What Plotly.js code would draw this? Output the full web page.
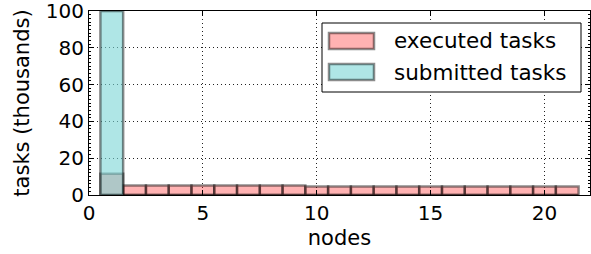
<!DOCTYPE html>
<html>
<head>
<meta charset="utf-8">
<script src="https://cdn.plot.ly/plotly-3.0.1.min.js"></script>
<style>html,body{margin:0;padding:0;background:#fff;}#chart{width:591px;height:254px;}</style>
</head>
<body>
<div id="chart"></div>
<script>
// Data (values in thousands of tasks)
const nodes = [1,2,3,4,5,6,7,8,9,10,11,12,13,14,15,16,17,18,19,20,21];
const executed = [11.6,5.2,5.2,5.2,5.2,5.2,5.2,5.2,5.2,4.6,4.6,4.6,4.6,4.6,4.6,4.6,4.6,4.6,4.6,4.6,4.6];
const submitted = [100,0,0,0,0,0,0,0,0,0,0,0,0,0,0,0,0,0,0,0,0];
const seriesNames = ['executed tasks','submitted tasks'];
const xTicks = [0,5,10,15,20];
const yTicks = [0,20,40,60,80,100];

const FONT = 'DejaVu Sans, sans-serif';
const fills = ['rgba(255,0,0,0.3)','rgba(121,214,214,0.6)'];
const edge = 'rgba(0,0,0,0.45)';

const traces = [
  {type:'bar', x:nodes, y:executed, name:seriesNames[0], width:1,
   marker:{color:fills[0], line:{color:edge, width:2.5}}, showlegend:false},
  {type:'bar', x:nodes, y:submitted, name:seriesNames[1], width:1,
   marker:{color:fills[1], line:{color:edge, width:2.5}}, showlegend:false}
];

// plot area in pixels
const L=89, R=590, T=11, B=195;
const px = v => (v-L)/(R-L);
const py = v => (B-v)/(B-T);

const shapes = [
  {type:'rect', xref:'paper', yref:'paper', x0:px(322), x1:px(581), y0:py(92), y1:py(23),
   fillcolor:'#fff', line:{color:'#000', width:1}, layer:'above'},
  {type:'rect', xref:'paper', yref:'paper', x0:px(329), x1:px(374), y0:py(49), y1:py(33),
   fillcolor:fills[0], line:{color:edge, width:2.5}, layer:'above'},
  {type:'rect', xref:'paper', yref:'paper', x0:px(329), x1:px(374), y0:py(80), y1:py(64),
   fillcolor:fills[1], line:{color:edge, width:2.5}, layer:'above'}
];
const annotations = [
  {xref:'paper', yref:'paper', x:px(392), y:py(41), xanchor:'left', yanchor:'middle',
   text:seriesNames[0], showarrow:false, font:{family:FONT, size:21.5, color:'#000'}},
  {xref:'paper', yref:'paper', x:px(392), y:py(72), xanchor:'left', yanchor:'middle',
   text:seriesNames[1], showarrow:false, font:{family:FONT, size:21.5, color:'#000'}}
];

const axisCommon = {
  showline:true, linecolor:'#000', linewidth:1, mirror:'ticks',
  ticks:'inside', ticklen:5, tickwidth:1, tickcolor:'#000',
  showgrid:true, gridcolor:'#222', griddash:'1px,3px', gridwidth:1,
  zeroline:false, tickfont:{family:FONT, size:20, color:'#000'}
};

const layout = {
  width:591, height:254,
  margin:{l:L, r:591-R, t:T, b:254-B},
  paper_bgcolor:'#fff', plot_bgcolor:'#fff',
  barmode:'overlay', bargap:0,
  showlegend:false,
  font:{family:FONT, color:'#000'},
  xaxis:Object.assign({}, axisCommon, {
    range:[0,22], tickvals:xTicks, ticktext:xTicks.map(String),
    title:{text:'nodes', font:{family:FONT, size:21, color:'#000'}, standoff:6}
  }),
  yaxis:Object.assign({}, axisCommon, {
    range:[0,100.01], tickvals:yTicks, ticktext:yTicks.map(String),
    ticklabeloverflow:'allow',
    minor:{dtick:2, ticks:'inside', ticklen:2, tickcolor:'#000', showgrid:false},
    title:{text:'tasks (thousands)', font:{family:FONT, size:21, color:'#000'}, standoff:10}
  }),
  shapes:shapes, annotations:annotations
};

Plotly.newPlot('chart', traces, layout, {staticPlot:true, displayModeBar:false});
</script>
</body>
</html>
